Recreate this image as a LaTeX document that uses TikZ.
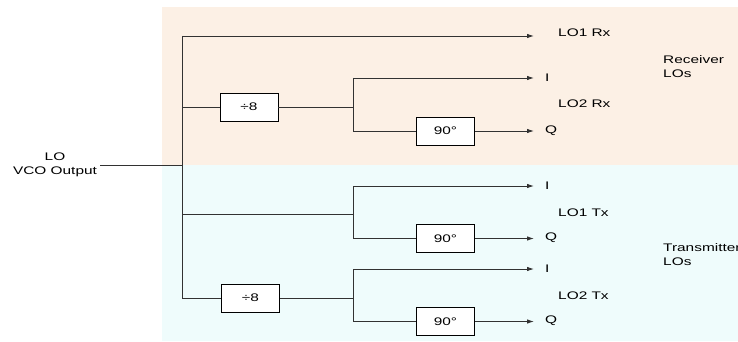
\documentclass[tikz,border=0pt]{standalone}
\usepackage{fontspec}
\setmainfont[FakeStretch=1.4]{Liberation Sans}
\usetikzlibrary{arrows.meta}

\definecolor{rxbg}{RGB}{252,240,229}
\definecolor{txbg}{RGB}{239,252,252}
\definecolor{wire}{RGB}{50,50,50}

\begin{document}
\begin{tikzpicture}[x=1pt,y=-1pt,>={Latex[length=7pt,width=4.5pt]},
    font=\fontsize{11}{14}\selectfont,
    wire/.style={draw=wire,line width=0.9pt},
    block/.style={draw,line width=0.8pt,fill=white,minimum width=58pt,minimum height=28pt,inner sep=0pt},
    lbl/.style={anchor=west,inner sep=0pt,align=left}]
    \useasboundingbox (0,0) rectangle (738,342);
    % shaded areas
    \fill[rxbg] (162,7) rectangle (738,165);
    \fill[txbg] (162,165) rectangle (738,341);

    % blocks
    \node[block] (div_rx) at (249,107) {÷8};
    \node[block] (ph_rx) at (445.5,131) {90°};
    \node[block] (ph_tx1) at (445.5,238.5) {90°};
    \node[block] (div_tx) at (250.5,298) {÷8};
    \node[block] (ph_tx2) at (445.5,321.5) {90°};

    % labels
    \node[align=center,inner sep=0pt] (lo_in) at (55,165) {LO\\VCO Output};
    \node[lbl] (lo1_rx) at (558,33) {LO1 Rx};
    \node[lbl] (i_rx) at (545,78) {I};
    \node[lbl] (lo2_rx) at (558,104) {LO2 Rx};
    \node[lbl] (q_rx) at (545,131) {Q};
    \node[lbl] (rx_los) at (663,67) {Receiver\\LOs};
    \node[lbl] (i_tx1) at (545,186) {I};
    \node[lbl] (lo1_tx) at (558,213) {LO1 Tx};
    \node[lbl] (q_tx1) at (545,238) {Q};
    \node[lbl] (i_tx2) at (545,269) {I};
    \node[lbl] (lo2_tx) at (558,296) {LO2 Tx};
    \node[lbl] (q_tx2) at (545,321) {Q};
    \node[lbl] (tx_los) at (663,254.5) {Transmitter\\LOs};

    % junctions
    \coordinate (c_in) at (100,165);
    \coordinate (t_in) at (182,165);
    \coordinate (t_top) at (182,36);
    \coordinate (t_rx2) at (182,107);
    \coordinate (t_tx1) at (182,214);
    \coordinate (t_bot) at (182,298);
    \coordinate (s_rx_i) at (353,78);
    \coordinate (s_rx) at (353,107);
    \coordinate (s_rx_q) at (353,131);
    \coordinate (s_tx1_i) at (353,186);
    \coordinate (s_tx1) at (353,214);
    \coordinate (s_tx1_q) at (353,238.5);
    \coordinate (s_tx2_i) at (353,269);
    \coordinate (s_tx2) at (353,298);
    \coordinate (s_tx2_q) at (353,321.5);
    \coordinate (e_lo1_rx) at (534,36);
    \coordinate (e_i_rx) at (534,78);
    \coordinate (e_q_rx) at (534,131);
    \coordinate (e_i_tx1) at (534,186);
    \coordinate (e_q_tx1) at (534,238.5);
    \coordinate (e_i_tx2) at (534,269);
    \coordinate (e_q_tx2) at (534,321.5);

    % wiring
    \path[wire] (c_in) -- (t_in);
    \path[wire] (t_top) -- (t_bot);
    \path[wire,->] (t_top) -- (e_lo1_rx);
    \path[wire] (t_rx2) -- (div_rx);
    \path[wire] (div_rx) -- (s_rx);
    \path[wire] (s_rx_i) -- (s_rx_q);
    \path[wire,->] (s_rx_i) -- (e_i_rx);
    \path[wire] (s_rx_q) -- (ph_rx);
    \path[wire,->] (ph_rx) -- (e_q_rx);
    \path[wire] (t_tx1) -- (s_tx1);
    \path[wire] (s_tx1_i) -- (s_tx1_q);
    \path[wire,->] (s_tx1_i) -- (e_i_tx1);
    \path[wire] (s_tx1_q) -- (ph_tx1);
    \path[wire,->] (ph_tx1) -- (e_q_tx1);
    \path[wire] (t_bot) -- (div_tx);
    \path[wire] (div_tx) -- (s_tx2);
    \path[wire] (s_tx2_i) -- (s_tx2_q);
    \path[wire,->] (s_tx2_i) -- (e_i_tx2);
    \path[wire] (s_tx2_q) -- (ph_tx2);
    \path[wire,->] (ph_tx2) -- (e_q_tx2);
\end{tikzpicture}
\end{document}
